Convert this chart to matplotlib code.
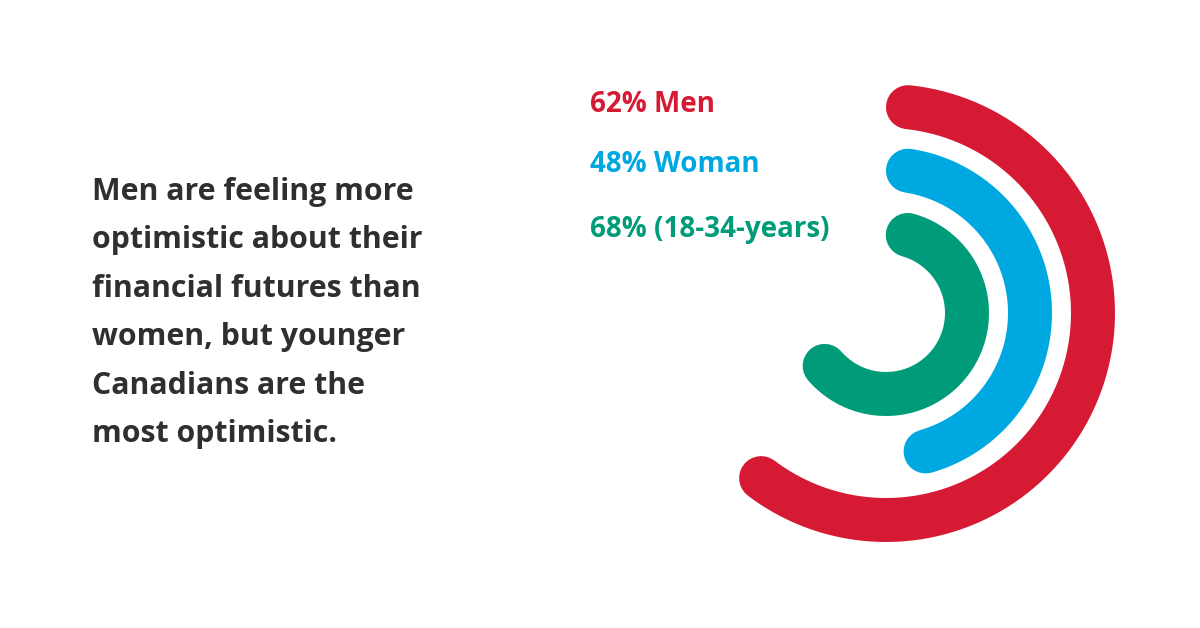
import numpy as np
import matplotlib
matplotlib.use("Agg")
import matplotlib.pyplot as plt

# data
labels = ["62% Men", "48% Woman", "68% (18-34-years)"]
values = [62, 48, 68]
colors = ["#D71A33", "#00A8E1", "#009C7A"]
radii = [207, 144, 81]  # ring radius, in pixels of the polar axis
headline = ("Men are feeling more\noptimistic about their\nfinancial futures than\n"
            "women, but younger\nCanadians are the\nmost optimistic.")

W, H = 1200, 628
fig = plt.figure(figsize=(W / 100, H / 100), dpi=100)
fig.patch.set_facecolor("white")

# polar axis centred on the rings
cx, cy, R = 886, 313, 240
ax = fig.add_axes([(cx - R) / W, (H - cy - R) / H, 2 * R / W, 2 * R / H], projection="polar")
ax.set_theta_zero_location("N")
ax.set_theta_direction(-1)
ax.set_ylim(0, R)
ax.axis("off")

lw_px = 44
for val, col, r in zip(values, colors, radii):
    cap = (lw_px / 2) / r  # keep the round caps inside the value's angle
    end = val / 100 * 2 * np.pi
    th = np.linspace(cap, end - cap, 300)
    ax.plot(th, np.full_like(th, r), color=col, lw=lw_px * 0.72,
            solid_capstyle="round")

# ring labels
label_y = [105, 165, 229]
for lab, col, y in zip(labels, colors, label_y):
    fig.text(590 / W, 1 - y / H, lab, color=col, fontsize=20, fontweight="bold",
             family="Open Sans", ha="left", va="center")

fig.text(92 / W, 1 - 177 / H, headline, color="#2f2f2f", fontsize=21.8,
         fontweight="bold", family="Open Sans", ha="left", va="top", linespacing=1.8)

fig.savefig("out.png", dpi=100, facecolor="white")
